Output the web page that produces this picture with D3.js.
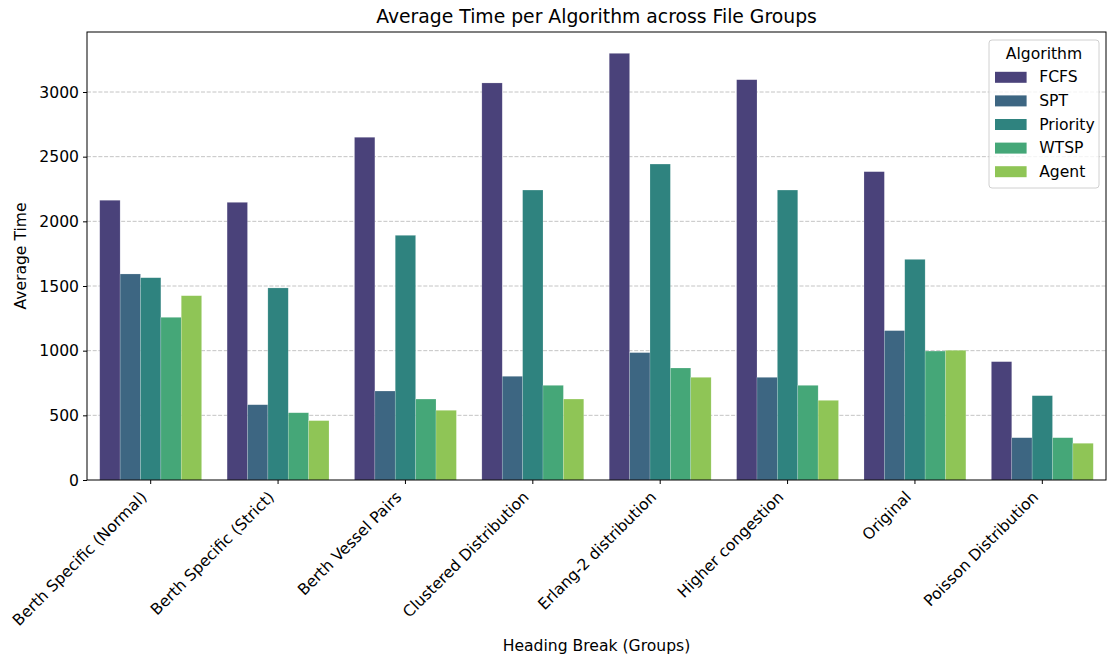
<!DOCTYPE html>
<html>
<head>
<meta charset="utf-8">
<script src="https://cdn.jsdelivr.net/npm/d3@7"></script>
<style>
  html, body { margin: 0; padding: 0; background: #fff; }
  svg { display: block; font-family: "DejaVu Sans", sans-serif; }
</style>
</head>
<body>
<svg id="chart" width="1107" height="657"></svg>
<script>
// ---- Data ----
const groups = [
  "Berth Specific (Normal)", "Berth Specific (Strict)", "Berth Vessel Pairs",
  "Clustered Distribution", "Erlang-2 distribution", "Higher congestion",
  "Original", "Poisson Distribution"
];
const algorithms = ["FCFS", "SPT", "Priority", "WTSP", "Agent"];
const fcfs     = [2163, 2147, 2650, 3070, 3299, 3095, 2384, 915];
const spt      = [1593,  582,  688,  802,  985,  794, 1155, 327];
const priority = [1564, 1485, 1892, 2242, 2443, 2242, 1706, 652];
const wtsp     = [1258,  520,  626,  732,  866,  732,  997, 327];
const agent    = [1425,  459,  539,  626,  794,  616, 1003, 284];
const yTicks   = [0, 500, 1000, 1500, 2000, 2500, 3000];

const seriesValues = [fcfs, spt, priority, wtsp, agent];
const rows = [];
groups.forEach((g, gi) => algorithms.forEach((a, ai) => rows.push({ group: g, algo: a, value: seriesValues[ai][gi] })));

// ---- Colours: seaborn viridis(5) desaturated to 0.75 ----
const colors = algorithms.map((a, i) => {
  const c = d3.hsl(d3.interpolateViridis((i + 1) / 6));
  c.s *= 0.75;
  return c.formatHex();
});
const color = d3.scaleOrdinal().domain(algorithms).range(colors);

// ---- Layout ----
const svg = d3.select("#chart");
const m = { left: 87, right: 1106, top: 32, bottom: 480 };
const fs = 15.6;

const maxV = d3.max(rows, d => d.value);
const y = d3.scaleLinear().domain([0, maxV * 1.05]).range([m.bottom, m.top]);
const x0 = d3.scaleBand().domain(groups).range([m.left, m.right]).paddingInner(0).paddingOuter(0);
const x1 = d3.scaleBand().domain(algorithms).range([x0.bandwidth() * 0.1, x0.bandwidth() * 0.9]).padding(0);

// grid
svg.append("g").selectAll("line").data(yTicks.filter(t => t > 0)).join("line")
  .attr("x1", m.left).attr("x2", m.right)
  .attr("y1", d => y(d)).attr("y2", d => y(d))
  .attr("stroke", "#b0b0b0").attr("stroke-opacity", 0.75)
  .attr("stroke-width", 1).attr("stroke-dasharray", "4,1.7");

// bars
svg.append("g").selectAll("rect").data(rows).join("rect")
  .attr("x", d => x0(d.group) + x1(d.algo))
  .attr("width", x1.bandwidth())
  .attr("y", d => y(d.value))
  .attr("height", d => y(0) - y(d.value))
  .attr("fill", d => color(d.algo))
  .attr("stroke", "#ffffff").attr("stroke-opacity", 0.3).attr("stroke-width", 0.6);

// y axis
const yAxis = d3.axisLeft(y).tickValues(yTicks).tickSize(4).tickPadding(4).tickFormat(d3.format("d"));
const gy = svg.append("g").attr("transform", `translate(${m.left},0)`).call(yAxis);
gy.select(".domain").remove();
gy.selectAll(".tick line").attr("stroke", "#000").attr("stroke-width", 1);
gy.selectAll(".tick text").attr("font-size", fs).attr("fill", "#000").attr("font-family", "DejaVu Sans");

// x axis
const xAxis = d3.axisBottom(x0).tickSize(4).tickPadding(4);
const gx = svg.append("g").attr("transform", `translate(0,${m.bottom})`).call(xAxis);
gx.select(".domain").remove();
gx.selectAll(".tick line").attr("stroke", "#000").attr("stroke-width", 1);
gx.selectAll(".tick text")
  .attr("font-size", fs).attr("fill", "#000").attr("font-family", "DejaVu Sans")
  .attr("text-anchor", "end").attr("dominant-baseline", "central")
  .attr("dy", null).attr("y", null)
  .attr("transform", "translate(-6.5,14.5) rotate(-45)");

// spines
const sp = svg.append("g").attr("stroke", "#000").attr("stroke-width", 1).attr("fill", "none");
sp.append("rect").attr("x", m.left).attr("y", m.top).attr("width", m.right - m.left).attr("height", m.bottom - m.top);

// title & labels
svg.append("text").attr("x", (m.left + m.right) / 2).attr("y", 23)
  .attr("text-anchor", "middle").attr("font-size", 18.8).attr("fill", "#000")
  .text("Average Time per Algorithm across File Groups");
svg.append("text").attr("x", (m.left + m.right) / 2).attr("y", 651)
  .attr("text-anchor", "middle").attr("font-size", fs).attr("fill", "#000")
  .text("Heading Break (Groups)");
svg.append("text").attr("transform", `translate(26,${(m.top + m.bottom) / 2}) rotate(-90)`)
  .attr("text-anchor", "middle").attr("font-size", fs).attr("fill", "#000")
  .text("Average Time");

// legend
const lg = svg.append("g");
const lgLeft = 989, lgRight = 1099, lgTop = 40, lgBottom = 188;
lg.append("rect").attr("x", lgLeft).attr("y", lgTop).attr("width", lgRight - lgLeft).attr("height", lgBottom - lgTop)
  .attr("rx", 3).attr("fill", "#fff").attr("fill-opacity", 0.8)
  .attr("stroke", "#d0d0d0").attr("stroke-width", 1);
lg.append("text").attr("x", (lgLeft + lgRight) / 2).attr("y", 53.5).attr("dominant-baseline", "central")
  .attr("text-anchor", "middle").attr("font-size", fs).attr("fill", "#000").text("Algorithm");
const items = lg.selectAll("g.item").data(algorithms).join("g")
  .attr("transform", (d, i) => `translate(${lgLeft + 6},${77.3 + i * 23.6})`);
items.append("rect").attr("x", 0).attr("y", -5.5).attr("width", 31.6).attr("height", 11)
  .attr("fill", d => color(d));
items.append("text").attr("x", 31.6 + 12.6).attr("y", 0).attr("dominant-baseline", "central")
  .attr("font-size", fs).attr("fill", "#000").text(d => d);
</script>
</body>
</html>
